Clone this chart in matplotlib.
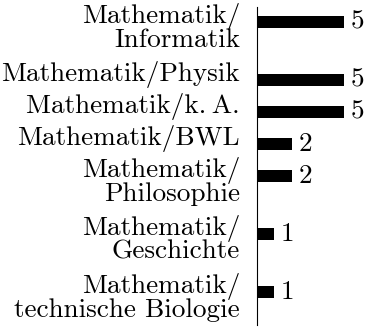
import matplotlib
matplotlib.use('Agg')
import matplotlib.pyplot as plt
from matplotlib.transforms import blended_transform_factory

categories = ["Mathematik/\nInformatik", "Mathematik/Physik", "Mathematik/k.\u2009A.",
              "Mathematik/BWL", "Mathematik/\nPhilosophie", "Mathematik/\nGeschichte",
              "Mathematik/\ntechnische Biologie"]
values = [5, 5, 5, 2, 2, 1, 1]

plt.rcParams['font.family'] = ['cmr10', 'DejaVu Serif']
plt.rcParams['axes.unicode_minus'] = False

W, H = 367, 329
fig = plt.figure(figsize=(W / 100, H / 100), dpi=100)
ax = fig.add_axes([257 / W, 4 / H, 110 / W, 318 / H])

# vertical layout: one slot per label line
pos = []
y = 0.0
for c in categories:
    pos.append(y)
    y += 1 + 0.8125 * c.count('\n')

ax.barh(pos, values, height=12 / 32, color='black')
ax.set_xlim(0, 110 / 17.4)
ax.set_ylim(pos[-1] + 33 / 32, -15 / 32)
for s in ['top', 'right', 'bottom']:
    ax.spines[s].set_visible(False)
ax.spines['left'].set_linewidth(0.8)
ax.set_xticks([])
ax.set_yticks([])

trans = blended_transform_factory(ax.transAxes, ax.transData)
for p, c in zip(pos, categories):
    for k, line in enumerate(c.split('\n')):
        ax.text(-17 / 110, p + 0.02 + k * 0.76, line, transform=trans, ha='right',
                va='baseline', fontsize=19.6)
for p, v in zip(pos, values):
    ax.annotate(str(v), (v, p), xytext=(4.7, 0), textcoords='offset points',
                ha='left', va='center', fontsize=19.6, annotation_clip=False)

fig.savefig('out.png', dpi=100)
